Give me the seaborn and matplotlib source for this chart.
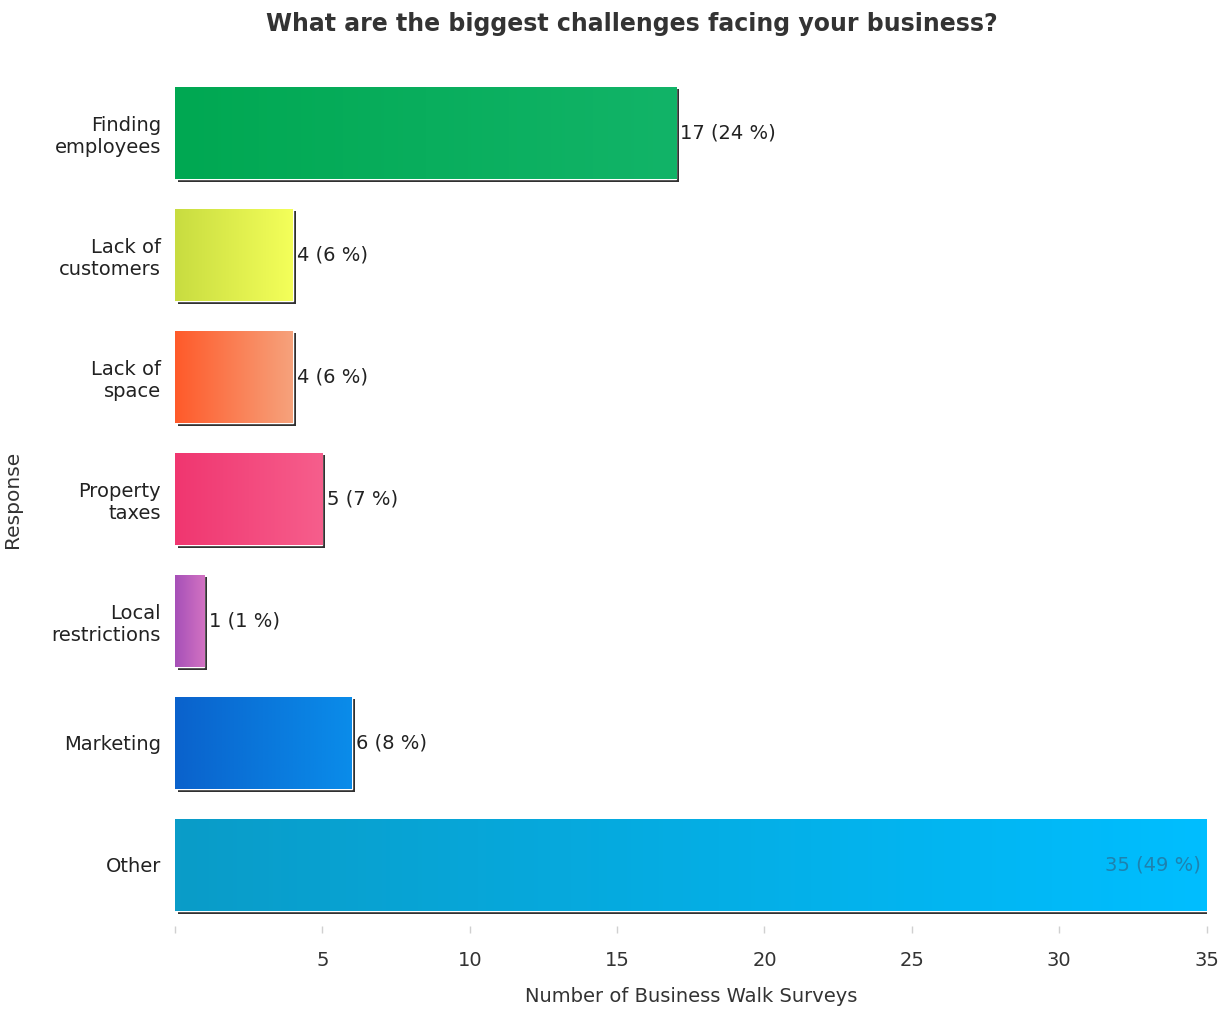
import matplotlib
matplotlib.use("Agg")
import matplotlib.pyplot as plt
import matplotlib.patheffects as pe
from matplotlib.colors import LinearSegmentedColormap
import numpy as np
import pandas as pd
import seaborn as sns

categories = ["Finding\nemployees", "Lack of\ncustomers", "Lack of\nspace", "Property\ntaxes",
              "Local\nrestrictions", "Marketing", "Other"]
counts = [17, 4, 4, 5, 1, 6, 35]
percents = [24, 6, 6, 7, 1, 8, 49]
colors_left = ["#00A852", "#C8DC40", "#FF5A2A", "#F03670", "#A650B8", "#0A62CC", "#0A9CC8"]
colors_right = ["#12B468", "#F4FF5A", "#F6A27C", "#F65E8C", "#D272C2", "#0A8CEA", "#00BEFF"]
xticks = [0, 5, 10, 15, 20, 25, 30, 35]
xticklabels = ["", "5", "10", "15", "20", "25", "30", "35"]

sns.set_theme(style="white")
plt.rcParams['font.family'] = ['DejaVu Sans']

df = pd.DataFrame({"Response": categories, "Count": counts})

fig = plt.figure(figsize=(12.2, 10.13), dpi=100)
ax = fig.add_axes([0.1434, 0.0859, 0.8456, 0.8431])

sns.barplot(data=df, x="Count", y="Response", hue="Response", palette=colors_left,
            legend=False, orient="h", width=0.76, ax=ax, saturation=1)

for i, patch in enumerate(ax.patches):
    x0, y0 = patch.get_x(), patch.get_y()
    w, h = patch.get_width(), patch.get_height()
    patch.set_path_effects([pe.SimplePatchShadow(offset=(2, -2), shadow_rgbFace="#1a1a1a", alpha=0.9),
                            pe.Normal()])
    cmap = LinearSegmentedColormap.from_list("g%d" % i, [colors_left[i], colors_right[i]])
    grad = np.linspace(0, 1, 256).reshape(1, -1)
    im = ax.imshow(grad, cmap=cmap, extent=(x0, x0 + w, y0 + h, y0), aspect="auto",
                   zorder=patch.get_zorder() + 0.1, interpolation="bilinear")
    im.set_clip_path(patch)
    label = "%d (%d %%)" % (counts[i], percents[i])
    yc = y0 + h / 2
    if counts[i] >= 30:
        ax.text(x0 + w - 0.2, yc, label, ha="right", va="center", fontsize=14,
                color="#2a6a90", alpha=0.7, zorder=5)
    else:
        ax.text(x0 + w + 0.15, yc, label, ha="left", va="center", fontsize=14,
                color="#222222", zorder=5)

ax.set_xlim(0, 35)
ax.set_ylim(6.5, -0.5)
ax.set_xticks(xticks)
ax.set_xticklabels(xticklabels, fontsize=14, color="#333333")
ax.tick_params(axis="x", length=5, width=1, color="#d0d0d0", pad=13, bottom=True)
ax.tick_params(axis="y", length=0, pad=10, labelsize=14, labelcolor="#222222")
for s in ax.spines.values():
    s.set_visible(False)
ax.set_xlabel("Number of Business Walk Surveys", fontsize=14, color="#333333", labelpad=12)
ax.set_ylabel("Response", fontsize=14.5, color="#333333")
ax.yaxis.set_label_coords(-0.148, 0.5)
fig.suptitle("What are the biggest challenges facing your business?", x=0.518, y=0.988,
             fontsize=17, fontweight="bold", color="#333333")
ax.grid(False)

fig.savefig("out.png", dpi=100)
